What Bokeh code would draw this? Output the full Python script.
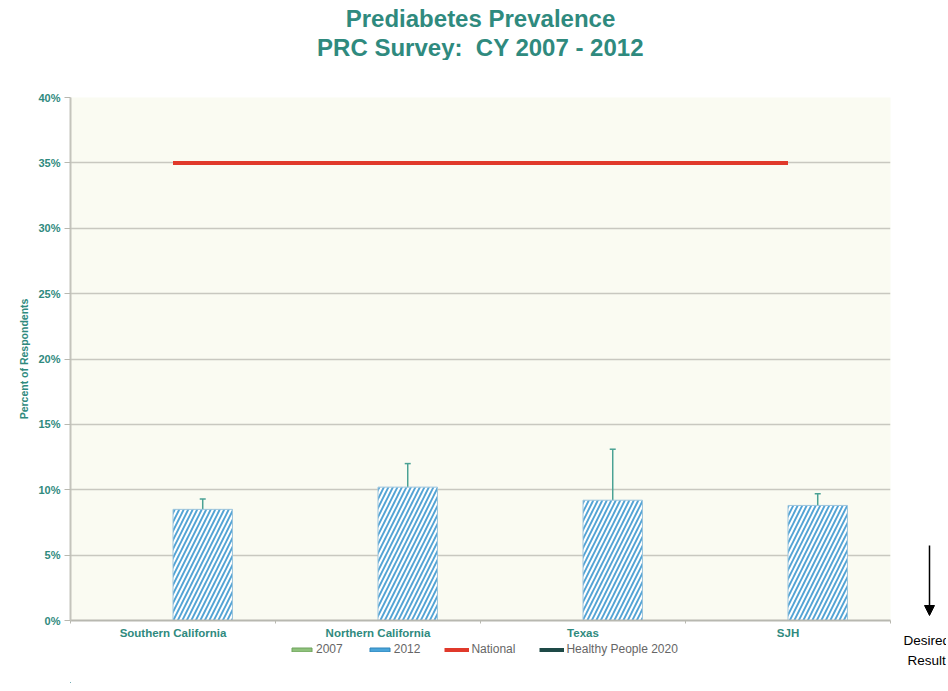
from bokeh.plotting import figure
from bokeh.layouts import row, column
from bokeh.models import (Range1d, FixedTicker, PrintfTickFormatter, ColumnDataSource, Whisker,
                          TeeHead, Legend, LegendItem, Label, Arrow, NormalHead)
from bokeh.embed import file_html
from bokeh.resources import INLINE

categories = ["Southern California", "Northern California", "Texas", "SJH"]
values_2012 = [8.5, 10.2, 9.2, 8.8]
err_low_2012 = [7.4, 8.6, 5.0, 8.0]
err_high_2012 = [9.3, 12.0, 13.1, 9.7]
national = [35, 35, 35, 35]
y_ticks = [0, 5, 10, 15, 20, 25, 30, 35, 40]
title_lines = ["Prediabetes Prevalence", "PRC Survey:\u00a0 CY 2007 - 2012"]
legend_labels = ["2007", "2012", "National", "Healthy People 2020"]

TEAL = "#2f8a7e"
FONT = "Liberation Sans"
centers = [i + 0.5 for i in range(len(categories))]
bar_x = [c + 0.145 for c in centers]


def blank(w, h):
    f = figure(width=w, height=h, output_backend="svg", toolbar_location=None,
               x_range=Range1d(0, w), y_range=Range1d(0, h), min_border=0,
               outline_line_color=None, background_fill_color="white", border_fill_color="white")
    f.axis.visible = False
    f.grid.visible = False
    return f


# ---- title strip
TW, TH = 946, 60
t = blank(TW, TH)
t.add_layout(Label(x=480, y=TH - 18, text=title_lines[0], text_align="center",
                   text_baseline="middle", text_font=FONT, text_font_size="24px",
                   text_font_style="bold", text_color=TEAL))
t.add_layout(Label(x=480, y=TH - 47, text=title_lines[1], text_align="center",
                   text_baseline="middle", text_font=FONT, text_font_size="24px",
                   text_font_style="bold", text_color=TEAL))

# ---- main chart
PW, PH = 898, 581
p = figure(width=PW, height=PH, output_backend="svg", toolbar_location=None,
           x_range=Range1d(0, 4), y_range=Range1d(0, 40),
           min_border_left=70, min_border_right=8, min_border_top=37, min_border_bottom=21,
           background_fill_color="#fafbf2", border_fill_color="white", outline_line_color=None)

src = ColumnDataSource(dict(x=bar_x, top=values_2012, lo=err_low_2012, hi=err_high_2012))
p.vbar(x="x", top="top", width=0.29, source=src, fill_color="white", line_color="#9cc4dc",
       line_width=1, hatch_pattern="/", hatch_color="#52a3d4", hatch_scale=9, hatch_weight=1.9)

w = Whisker(source=src, base="x", lower="lo", upper="hi", line_color="#4aa294", line_width=1.5,
            upper_head=TeeHead(size=6, line_color="#4aa294", line_width=1.5),
            lower_head=TeeHead(size=6, line_color="#4aa294", line_width=1.5))
p.add_layout(w)

p.line(x=centers, y=national, line_color="#e0392b", line_width=4)

p.xaxis.ticker = FixedTicker(ticks=centers, minor_ticks=[0, 1, 2, 3, 4])
p.xaxis.major_label_overrides = {c: n for c, n in zip(centers, categories)}
p.xaxis.major_tick_line_color = None
p.xaxis.major_tick_out = 0
p.xaxis.major_tick_in = 0
p.xaxis.minor_tick_out = 3
p.xaxis.minor_tick_in = 0
p.xaxis.minor_tick_line_color = "#b8b8b0"
p.xaxis.axis_line_color = "#b8b8b0"
p.xaxis.axis_line_width = 2
p.xaxis.major_label_text_color = TEAL
p.xaxis.major_label_text_font = FONT
p.xaxis.major_label_text_font_style = "bold"
p.xaxis.major_label_text_font_size = "11.5px"
p.xaxis.major_label_standoff = 3
p.xgrid.grid_line_color = None

p.yaxis.ticker = FixedTicker(ticks=y_ticks)
p.yaxis.formatter = PrintfTickFormatter(format="%d%%")
p.yaxis.axis_label = "Percent of Respondents"
p.yaxis.axis_label_text_color = TEAL
p.yaxis.axis_label_text_font = FONT
p.yaxis.axis_label_text_font_style = "bold"
p.yaxis.axis_label_text_font_size = "10.5px"
p.yaxis.axis_label_standoff = 5
p.yaxis.major_label_text_color = TEAL
p.yaxis.major_label_text_font = FONT
p.yaxis.major_label_text_font_style = "bold"
p.yaxis.major_label_text_font_size = "11px"
p.yaxis.major_label_standoff = 4
p.yaxis.major_tick_out = 6
p.yaxis.major_tick_in = 0
p.yaxis.major_tick_line_color = "#b8b8b0"
p.yaxis.minor_tick_line_color = None
p.yaxis.axis_line_color = "#c4c4bc"
p.yaxis.axis_line_width = 2
p.ygrid.grid_line_color = "#c8c8c0"
p.ygrid.grid_line_width = 1.5

# ---- legend strip
LW, LH = 898, 42
lg = blank(LW, LH)
r_2007 = lg.vbar(x=[-50], top=[1], width=5, fill_color="#8fc27c", line_color="#6fa25c")
r_2012 = lg.vbar(x=[-50], top=[1], width=5, fill_color="#4aa5da", line_color="#2f85ba")
r_nat = lg.line(x=[-60, -50], y=[1, 1], line_color="#e0392b", line_width=4)
r_hp = lg.line(x=[-60, -50], y=[1, 1], line_color="#1e4a47", line_width=4)
legend = Legend(items=[LegendItem(label=legend_labels[0], renderers=[r_2007]),
                       LegendItem(label=legend_labels[1], renderers=[r_2012]),
                       LegendItem(label=legend_labels[2], renderers=[r_nat]),
                       LegendItem(label=legend_labels[3], renderers=[r_hp])],
                orientation="horizontal", location=(219, 27), glyph_width=25, glyph_height=5,
                label_standoff=2, spacing=24, padding=2, margin=0,
                label_text_font=FONT, label_text_font_size="12px", label_height=12,
                label_text_color="#666666", background_fill_alpha=0, border_line_color=None)
lg.add_layout(legend)

# ---- side strip with the "Desired Result" arrow
SW, SH = 48, PH + LH
s = blank(SW, SH)
s.add_layout(Arrow(x_start=31, y_start=683 - 545, x_end=31, y_end=683 - 615, line_width=1.5,
                   line_color="black",
                   end=NormalHead(size=10, fill_color="black", line_color="black")))
s.add_layout(Label(x=5, y=683 - 640, text="Desired", text_align="left", text_baseline="middle",
                   text_font=FONT, text_font_size="13.5px", text_color="black"))
s.add_layout(Label(x=9, y=683 - 660, text="Result", text_align="left", text_baseline="middle",
                   text_font=FONT, text_font_size="13.5px", text_color="black"))

layout = column(t, row(column(p, lg, spacing=0), s, spacing=0), spacing=0)
open("out.html", "w").write(file_html(layout, INLINE))
